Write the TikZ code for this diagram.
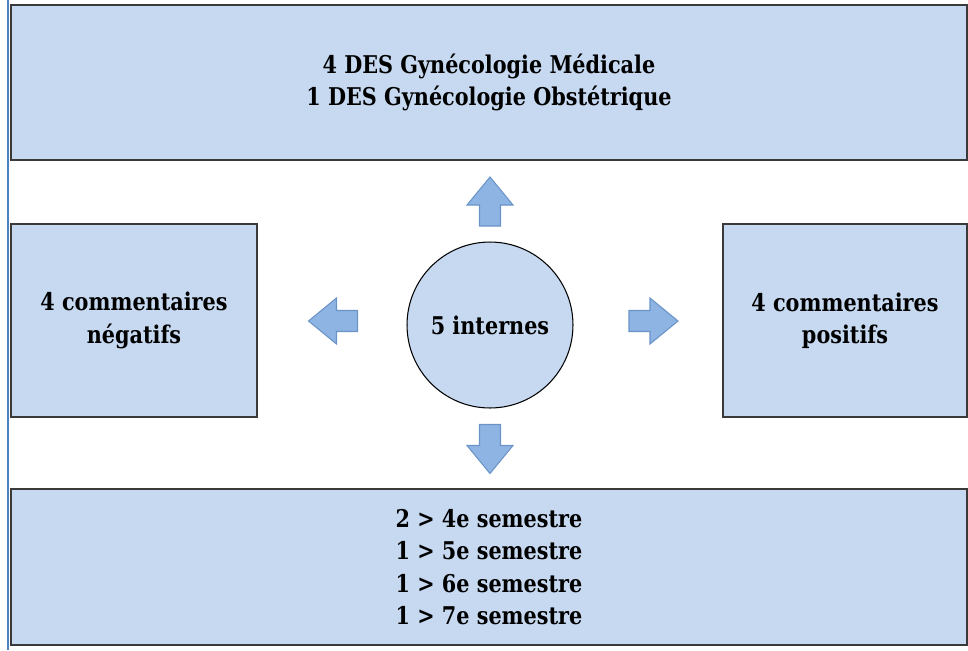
\documentclass[tikz,border=0pt]{standalone}
\usepackage{fontspec}
\newfontfamily\tnrfont{DejaVu Serif}[FakeStretch=0.85]
\usetikzlibrary{positioning}

\definecolor{boxfill}{HTML}{C6D9F1}
\definecolor{boxline}{HTML}{3A3A3A}
\definecolor{arrfill}{HTML}{8EB4E3}
\definecolor{arrline}{HTML}{6A94C8}
\definecolor{margline}{HTML}{4F81BD}

\tikzset{
  blockarr/.pic={
    \path[draw=arrline, fill=arrfill, line width=0.6pt]
      (-24.5,-10.5) -- (-3.5,-10.5) -- (-3.5,-23) -- (24.5,0)
      -- (-3.5,23) -- (-3.5,10.5) -- (-24.5,10.5) -- cycle;
  }
}

\begin{document}
\begin{tikzpicture}[
  x=0.02cm, y=-0.02cm,
  font=\tnrfont\fontsize{13.9}{18.4}\selectfont\bfseries,
  blk/.style={rectangle, draw=boxline, line width=1.2pt, fill=boxfill,
              align=center, inner sep=0pt},
  ctr/.style={circle, draw=black, line width=0.6pt, fill=boxfill,
              minimum size=3.32cm, inner sep=0pt}
]
\path[use as bounding box] (0,0) rectangle (968,650);
%% margin rule
\coordinate (m_top) at (8,0);
\coordinate (m_bot) at (8,650);
\draw[margline, line width=0.8pt] (m_top) -- (m_bot);
%% boxes
\node[blk, minimum width=19.12cm, minimum height=3.1cm] (des) at (489,82.5)
  {4 DES Gynécologie Médicale\\1 DES Gynécologie Obstétrique};
\node[blk, minimum width=4.92cm, minimum height=3.86cm] (neg) at (134,320.5)
  {4 commentaires\\négatifs};
\node[blk, minimum width=4.88cm, minimum height=3.86cm] (pos) at (845,320.5)
  {4 commentaires\\positifs};
\node[blk, minimum width=19.12cm, minimum height=3.12cm] (sem) at (489,567)
  {2 > 4e semestre\\1 > 5e semestre\\1 > 6e semestre\\1 > 7e semestre};
%% centre
\node[ctr] (int) at (490,325) {5 internes};
%% block arrows
\pic[rotate=90]  (a_up)    at (490,201.5) {blockarr};
\pic[rotate=-90] (a_down)  at (490,449)   {blockarr};
\pic[rotate=180] (a_left)  at (333,321)   {blockarr};
\pic             (a_right) at (653.5,321) {blockarr};
\end{tikzpicture}
\end{document}
